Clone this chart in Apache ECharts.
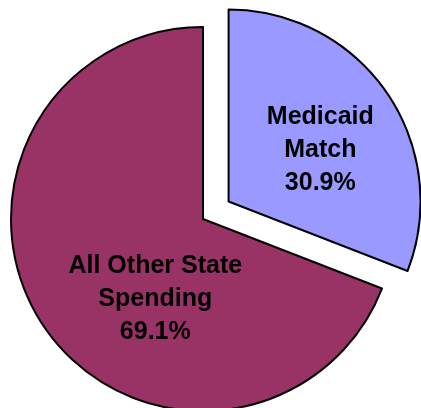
<!DOCTYPE html>
<html>
<head>
<meta charset="utf-8">
<script src="https://cdn.jsdelivr.net/npm/echarts@6/dist/echarts.min.js"></script>
<style>
  html, body { margin: 0; padding: 0; background: #fff; }
  #chart { width: 421px; height: 408px; }
</style>
</head>
<body>
<div id="chart"></div>
<script>
// slice names and shares (percent)
var names = ['Medicaid\nMatch', 'All Other State\nSpending'];
var values = [30.9, 69.1];
var colors = ['#9999FF', '#993366'];
// label nudges so the text sits where the original has it
var labelShift = [[10, 5], [34, 24]];

var myChart = echarts.init(document.getElementById('chart'));

var data = [];
for (var i = 0; i < names.length; i++) {
  data.push({
    name: names[i],
    value: values[i],
    selected: i === 0,
    itemStyle: { color: colors[i] }
  });
}

var option = {
  animation: false,
  series: [{
    type: 'pie',
    center: [203, 219],
    radius: 192,
    startAngle: 90,
    clockwise: true,
    selectedMode: 'single',
    selectedOffset: 31,
    percentPrecision: 1,
    itemStyle: { borderColor: '#000', borderWidth: 2 },
    emphasis: { disabled: true },
    label: {
      show: true,
      position: 'inner',
      formatter: '{b}\n{d}%',
      color: '#000',
      fontFamily: 'Liberation Sans, Arial, sans-serif',
      fontWeight: 'bold',
      fontSize: 25,
      lineHeight: 33,
      align: 'center'
    },
    labelLine: { show: false },
    labelLayout: function (p) {
      return { dx: labelShift[p.dataIndex][0], dy: labelShift[p.dataIndex][1] };
    },
    data: data
  }]
};
myChart.setOption(option, true);
</script>
</body>
</html>
